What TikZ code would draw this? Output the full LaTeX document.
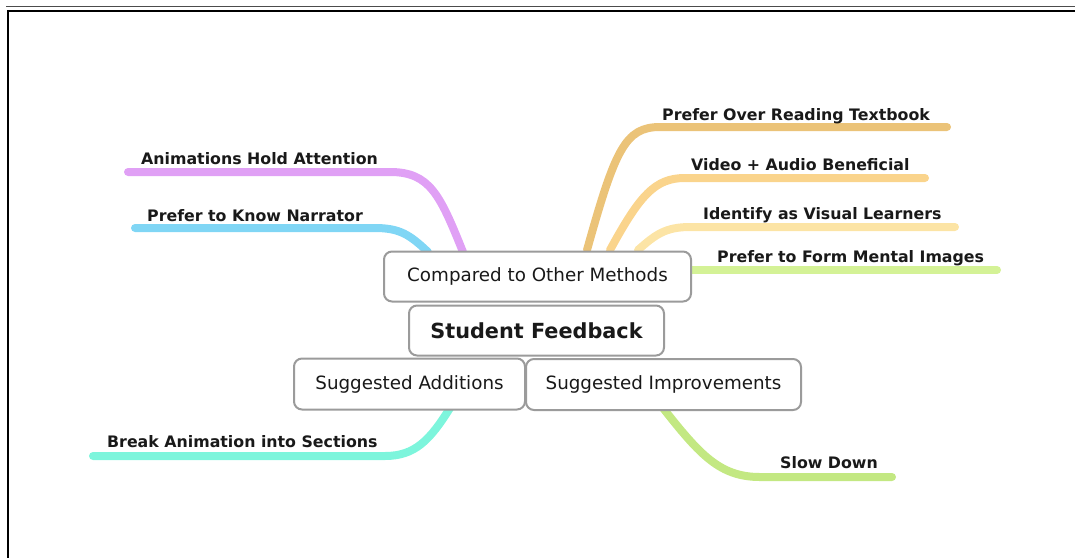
\documentclass[tikz,border=0pt]{standalone}
\usepackage{fontspec}
\setmainfont{DejaVu Sans}
\begin{document}
\begin{tikzpicture}[x=1pt,y=-1pt,
  box/.style={draw=boxgray, line width=2pt, rounded corners=8pt, fill=white, inner sep=0pt, font=\fontsize{18.3}{20}\selectfont, text=black!90},
  lbl/.style={anchor=base west, inner sep=0pt, font=\bfseries\fontsize{15.8}{18}\selectfont, text=black!90},
  branch/.style={line width=8pt, line cap=round}
]
\definecolor{boxgray}{RGB}{155,155,155}
\definecolor{cviolet}{RGB}{224,160,245}
\definecolor{cblue}{RGB}{128,214,245}
\definecolor{corange}{RGB}{235,195,120}
\definecolor{cvideo}{RGB}{250,212,140}
\definecolor{cident}{RGB}{252,228,165}
\definecolor{cmental}{RGB}{212,242,150}
\definecolor{caqua}{RGB}{125,245,220}
\definecolor{cslow}{RGB}{195,232,130}
\useasboundingbox (0,0) rectangle (1075,558);
% frame
\draw[line width=1.5pt, black!70] (6,6.5) -- (1075,6.5);
\draw[line width=2pt] (1075,10.5) -- (7.5,10.5) -- (7.5,558);

% branch end points
\coordinate (vA) at (463,252);
\coordinate (vB) at (128,172);
\coordinate (bA) at (428,252);
\coordinate (bB) at (135,228);
\coordinate (oA) at (587,250);
\coordinate (oB) at (947,127);
\coordinate (dA) at (610,250);
\coordinate (dB) at (925,178);
\coordinate (iA) at (638,250);
\coordinate (iB) at (955,227);
\coordinate (mA) at (690,270);
\coordinate (mB) at (997,270);
\coordinate (aA) at (450,408);
\coordinate (aB) at (93,456);
\coordinate (sA) at (663,408);
\coordinate (sB) at (892,477);

% branches
\draw[branch, cviolet] (vA) .. controls (440,195) and (430,172) .. (390,172) -- (vB);
\draw[branch, cblue] (bA) .. controls (410,235) and (400,228) .. (375,228) -- (bB);
\draw[branch, corange] (oA) .. controls (615,150) and (625,127) .. (660,127) -- (oB);
\draw[branch, cvideo] (dA) .. controls (640,195) and (655,178) .. (685,178) -- (dB);
\draw[branch, cident] (iA) .. controls (655,235) and (665,227) .. (690,227) -- (iB);
\draw[branch, cmental] (mA) -- (mB);
\draw[branch, caqua] (aA) .. controls (430,440) and (415,456) .. (385,456) -- (aB);
\draw[branch, cslow] (sA) .. controls (700,455) and (720,477) .. (760,477) -- (sB);

% labels
\node[lbl] (l1) at (141,164) {Animations Hold Attention};
\node[lbl] (l2) at (147,221) {Prefer to Know Narrator};
\node[lbl] (l3) at (662,120) {Prefer Over Reading Textbook};
\node[lbl] (l4) at (691,170) {Video + Audio Beneficial};
\node[lbl] (l5) at (703,219) {Identify as Visual Learners};
\node[lbl] (l6) at (717,262) {Prefer to Form Mental Images};
\node[lbl] (l7) at (107,447) {Break Animation into Sections};
\node[lbl] (l8) at (780,468) {Slow Down};

% boxes
\node[box, minimum width=307pt, minimum height=50pt] (cmp) at (537.5,276.5) {Compared to Other Methods};
\node[box, minimum width=255pt, minimum height=50pt, font=\bfseries\fontsize{20.8}{22}\selectfont] (sf) at (536.5,330.5) {Student Feedback};
\node[box, minimum width=231pt, minimum height=51pt] (add) at (409.5,384) {Suggested Additions};
\node[box, minimum width=275pt, minimum height=51pt] (imp) at (663.5,384.5) {Suggested Improvements};
\end{tikzpicture}
\end{document}
